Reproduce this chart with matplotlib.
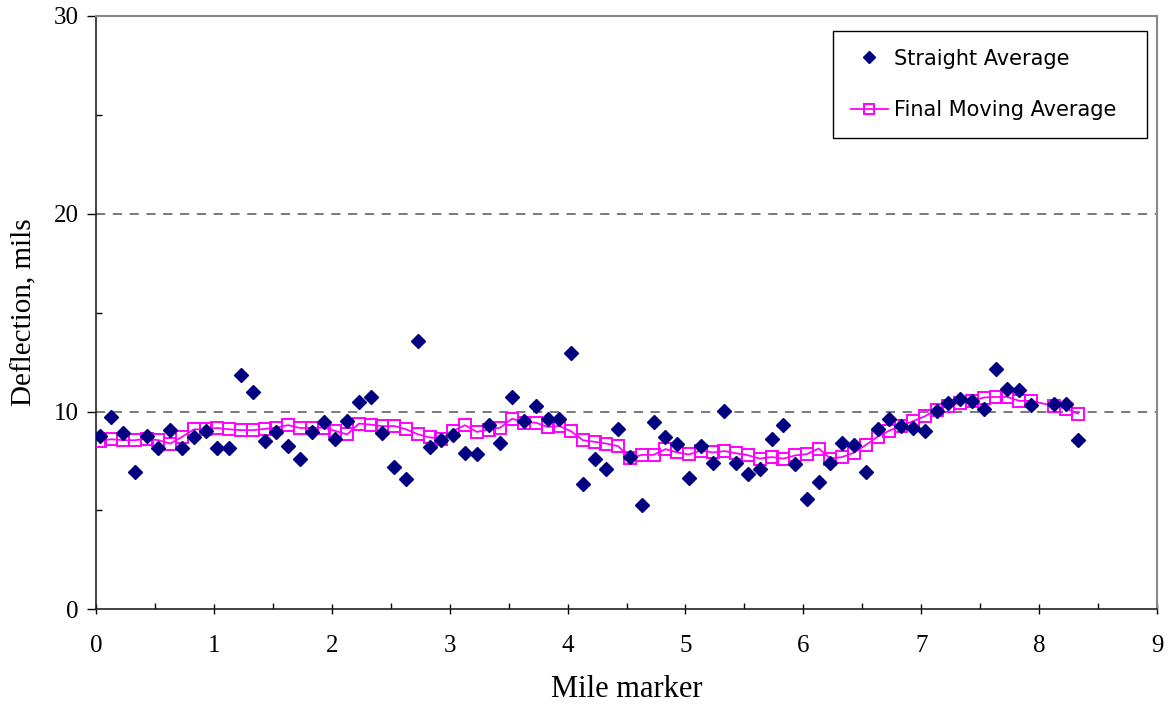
import matplotlib

matplotlib.use("Agg")
import matplotlib.pyplot as plt
from matplotlib.ticker import MultipleLocator

# mile markers (one reading every ~0.1 mile, no reading near 8.03)
MILES = [0.03, 0.13, 0.23, 0.33, 0.43, 0.53, 0.63, 0.73, 0.83, 0.93,
         1.03, 1.13, 1.23, 1.33, 1.43, 1.53, 1.63, 1.73, 1.83, 1.93,
         2.03, 2.13, 2.23, 2.33, 2.43, 2.53, 2.63, 2.73, 2.83, 2.93,
         3.03, 3.13, 3.23, 3.33, 3.43, 3.53, 3.63, 3.73, 3.83, 3.93,
         4.03, 4.13, 4.23, 4.33, 4.43, 4.53, 4.63, 4.73, 4.83, 4.93,
         5.03, 5.13, 5.23, 5.33, 5.43, 5.53, 5.63, 5.73, 5.83, 5.93,
         6.03, 6.13, 6.23, 6.33, 6.43, 6.53, 6.63, 6.73, 6.83, 6.93,
         7.03, 7.13, 7.23, 7.33, 7.43, 7.53, 7.63, 7.73, 7.83, 7.93,
         8.13, 8.23, 8.33]

STRAIGHT_AVG = [8.75, 9.70, 8.89, 6.92, 8.75, 8.18, 9.09, 8.18, 8.69, 9.02,
                8.18, 8.18, 11.83, 11.01, 8.53, 8.95, 8.26, 7.62, 8.95, 9.49,
                8.60, 9.51, 10.50, 10.74, 8.89, 7.20, 6.61, 13.55, 8.21, 8.55,
                8.80, 7.88, 7.83, 9.34, 8.43, 10.74, 9.53, 10.27, 9.61, 9.60,
                12.96, 6.36, 7.59, 7.09, 9.11, 7.71, 5.27, 9.48, 8.69, 8.35,
                6.65, 8.25, 7.41, 10.03, 7.41, 6.82, 7.07, 8.63, 9.34, 7.34,
                5.60, 6.42, 7.39, 8.43, 8.33, 6.95, 9.12, 9.60, 9.27, 9.19,
                9.00, 10.02, 10.45, 10.62, 10.52, 10.15, 12.14, 11.16, 11.11, 10.32,
                10.36, 10.36, 8.55]

MOVING_AVG = [8.52, 8.60, 8.55, 8.55, 8.63, 8.55, 8.38, 8.72, 9.10, 9.10,
              9.17, 9.10, 9.06, 9.06, 9.12, 9.19, 9.31, 9.17, 9.17, 9.19,
              9.02, 8.84, 9.39, 9.34, 9.26, 9.27, 9.10, 8.85, 8.69, 8.63,
              9.02, 9.31, 8.97, 9.09, 9.19, 9.64, 9.44, 9.44, 9.22, 9.27,
              9.00, 8.55, 8.47, 8.38, 8.25, 7.64, 7.81, 7.81, 8.10, 7.93,
              7.83, 8.03, 7.93, 8.00, 7.89, 7.79, 7.62, 7.70, 7.62, 7.78,
              7.85, 8.13, 7.62, 7.70, 7.92, 8.31, 8.73, 9.04, 9.26, 9.51,
              9.76, 10.10, 10.28, 10.45, 10.54, 10.71, 10.74, 10.74, 10.54, 10.54,
              10.28, 10.15, 9.90]

serif = "Liberation Serif"

fig = plt.figure(figsize=(11.68, 7.13), dpi=100)
ax = fig.add_axes([0.0822, 0.1454, 0.9084, 0.8322])

ax.plot(MILES, MOVING_AVG, color="#FF00FF", lw=1.3, marker="s", ms=8,
        mfc="none", mec="#FF00FF", mew=1.4, label="Final Moving Average", zorder=3)
ax.plot(MILES, STRAIGHT_AVG, ls="none", marker="D", ms=7, color="#000080",
        label="Straight Average", zorder=4)

ax.set_xlim(0, 9)
ax.set_ylim(0, 30)
ax.xaxis.set_major_locator(MultipleLocator(1))
ax.xaxis.set_minor_locator(MultipleLocator(0.5))
ax.yaxis.set_major_locator(MultipleLocator(10))
ax.yaxis.set_minor_locator(MultipleLocator(5))

for y in (10, 20):
    ax.axhline(y, color="#555555", lw=1.1, ls=(0, (6, 5)), zorder=1)

for side in ("top", "right"):
    ax.spines[side].set_color("#888888")
    ax.spines[side].set_linewidth(1.5)
for side in ("left", "bottom"):
    ax.spines[side].set_color("#222222")
    ax.spines[side].set_linewidth(1.2)

ax.tick_params(axis="x", which="major", direction="inout", length=7, width=1,
               pad=15, labelsize=18)
ax.tick_params(axis="x", which="minor", direction="in", length=4.5, width=1)
ax.tick_params(axis="y", which="major", direction="out", length=6.5, width=1,
               pad=6, labelsize=18)
ax.tick_params(axis="y", which="minor", direction="in", length=4.5, width=1)
for lab in ax.get_xticklabels() + ax.get_yticklabels():
    lab.set_fontfamily(serif)

ax.set_xlabel("Mile marker", fontsize=22, family=serif, labelpad=13)
ax.set_ylabel("Deflection, mils", fontsize=21, family=serif, labelpad=12)

handles, labels = ax.get_legend_handles_labels()
leg = ax.legend(handles[::-1], labels[::-1], loc="upper left",
                bbox_to_anchor=(0.6946, 0.7, 0.296, 0.2747), mode="expand",
                borderaxespad=0, fontsize=15, frameon=True,
                fancybox=False, edgecolor="black", framealpha=1,
                borderpad=0.85, labelspacing=1.5, handlelength=1.8,
                handletextpad=0.3, markerscale=0.85)
leg.get_frame().set_linewidth(1.0)

fig.savefig("out.png", dpi=100)
